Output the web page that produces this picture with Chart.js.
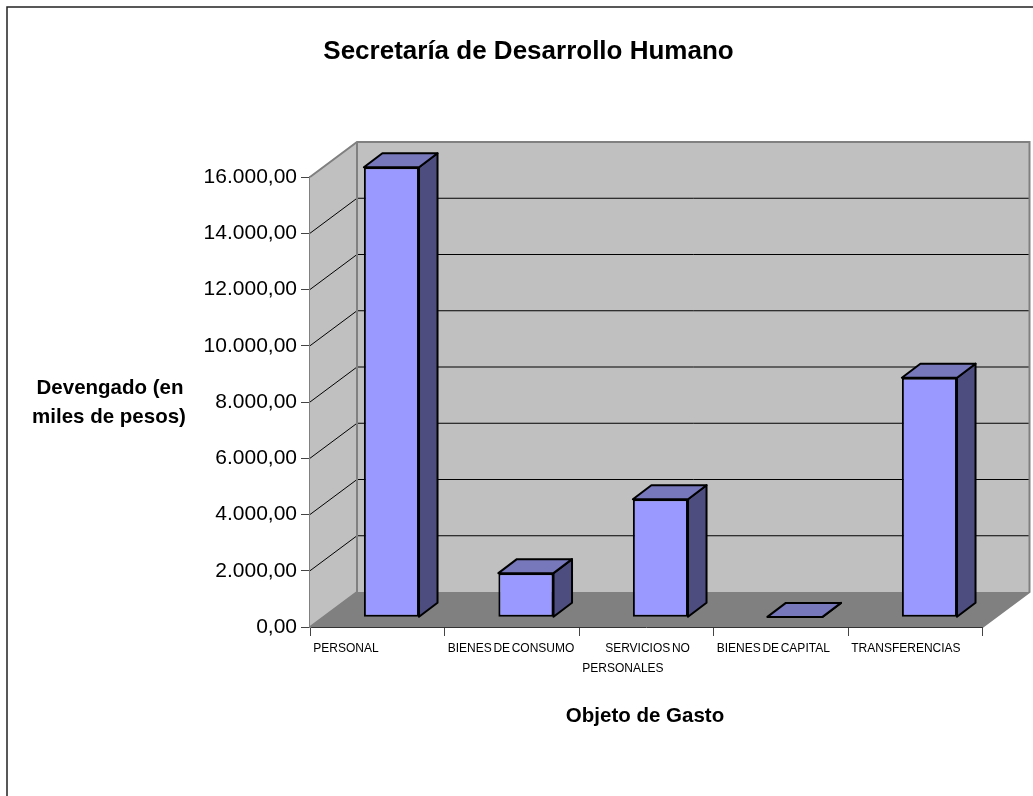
<!DOCTYPE html>
<html>
<head>
<meta charset="utf-8">
<title>Secretaría de Desarrollo Humano</title>
<script src="https://cdn.jsdelivr.net/npm/chart.js@4"></script>
<style>
    body { margin: 0; background: #fff; }
    canvas { display: block; }
</style>
</head>
<body>
<canvas id="gastoChart" width="1033" height="796"></canvas>
<script>
// Datos
const categories = ['PERSONAL', 'BIENES DE CONSUMO', ['SERVICIOS NO', 'PERSONALES'], 'BIENES DE CAPITAL', 'TRANSFERENCIAS'];
const devengado = [16000, 1570, 4200, 15, 8520];
const chartTitle = 'Secretaría de Desarrollo Humano';
const yTitle = ['Devengado (en', 'miles de pesos)'];
const xTitle = 'Objeto de Gasto';

const FONT = '"Liberation Sans", Arial, sans-serif';
const WALL = '#c0c0c0';
const FLOOR = '#808080';
const depthX = 47, depthY = 35;       // profundidad de la caja
const barShiftX = 14.2, barShiftY = 9.7; // barras en el medio de la caja
const barDepthX = 18.5, barDepthY = 14;

function poly(ctx, pts, fill, stroke, lw) {
    ctx.beginPath();
    pts.forEach((p, i) => i ? ctx.lineTo(p[0], p[1]) : ctx.moveTo(p[0], p[1]));
    ctx.closePath();
    if (fill) { ctx.fillStyle = fill; ctx.fill(); }
    if (stroke) { ctx.strokeStyle = stroke; ctx.lineWidth = lw; ctx.stroke(); }
}

// Paredes y piso
const box3d = {
    id: 'box3d',
    beforeDraw(chart) {
        // las etiquetas del eje x tienen los espacios apretados
        chart.ctx.wordSpacing = '-1.7px';
    },
    beforeDatasetsDraw(chart) {
        const { ctx, chartArea: a, scales: { y } } = chart;
        const dx = depthX, dy = depthY;
        ctx.save();
        poly(ctx, [[a.left + dx, a.top - dy], [a.right + dx, a.top - dy], [a.right + dx, a.bottom - dy], [a.left + dx, a.bottom - dy]], WALL);
        poly(ctx, [[a.left, a.top], [a.left + dx, a.top - dy], [a.left + dx, a.bottom - dy], [a.left, a.bottom]], WALL);
        poly(ctx, [[a.left, a.bottom], [a.left + dx, a.bottom - dy], [a.right + dx, a.bottom - dy], [a.right, a.bottom]], FLOOR);

        ctx.strokeStyle = '#000';
        ctx.lineWidth = 1;
        y.ticks.forEach((t, i) => {
            if (i === 0 || t.value === y.max) return;
            const py = y.getPixelForValue(t.value);
            ctx.beginPath();
            ctx.moveTo(a.left, py);
            ctx.lineTo(a.left + dx, py - dy);
            ctx.lineTo(a.right + dx, py - dy);
            ctx.stroke();
        });

        ctx.strokeStyle = FLOOR;
        ctx.lineWidth = 2;
        ctx.beginPath();
        ctx.moveTo(a.left, a.top);
        ctx.lineTo(a.left + dx, a.top - dy);
        ctx.lineTo(a.right + dx, a.top - dy);
        ctx.lineTo(a.right + dx, a.bottom - dy);
        ctx.lineTo(a.right, a.bottom);
        ctx.moveTo(a.left + dx, a.top - dy);
        ctx.lineTo(a.left + dx, a.bottom - dy);
        ctx.lineTo(a.left, a.bottom);
        ctx.stroke();
        ctx.restore();

        // las barras se dibujan corridas hacia el fondo
        ctx.save();
        ctx.translate(barShiftX, -barShiftY);
    },
    afterDatasetsDraw(chart) {
        const { ctx } = chart;
        chart.getDatasetMeta(0).data.forEach(bar => {
            const { x, y, base, width } = bar.getProps(['x', 'y', 'base', 'width'], true);
            const l = x - width / 2, r = x + width / 2;
            const bx = barDepthX, by = barDepthY;
            ctx.lineJoin = 'round';
            poly(ctx, [[r, y], [r + bx, y - by], [r + bx, base - by], [r, base]], '#4d4d80', '#000', 2);
            poly(ctx, [[l, y], [l + bx, y - by], [r + bx, y - by], [r, y]], '#7777bb', '#000', 2);
        });
        ctx.restore();
    },
    afterDraw(chart) {
        const { ctx } = chart;
        ctx.save();
        ctx.wordSpacing = '0px';
        ctx.fillStyle = '#000';
        ctx.textAlign = 'center';
        ctx.textBaseline = 'middle';
        ctx.font = 'bold 26px ' + FONT;
        ctx.fillText(chartTitle, 528.5, 52);
        ctx.font = 'bold 20.5px ' + FONT;
        ctx.fillText(yTitle[0], 110, 388);
        ctx.fillText(yTitle[1], 109, 417);
        ctx.fillText(xTitle, 645, 716);
        // marco exterior
        ctx.strokeStyle = '#222';
        ctx.lineWidth = 1.5;
        ctx.strokeRect(7, 7, 1040, 800);
        ctx.restore();
    }
};

new Chart(document.getElementById('gastoChart').getContext('2d'), {
    type: 'bar',
    plugins: [box3d],
    data: {
        labels: categories,
        datasets: [{
            data: devengado,
            backgroundColor: '#9999ff',
            borderColor: '#000',
            borderWidth: 2,
            borderSkipped: false,
            barPercentage: 0.41,
            categoryPercentage: 1,
            clip: false
        }]
    },
    options: {
        responsive: false,
        animation: false,
        layout: { padding: { top: 177, right: 50.5 } },
        plugins: { legend: { display: false }, tooltip: { enabled: false } },
        scales: {
            x: {
                afterFit(scale) { scale.height = 169; },
                border: { color: '#333', width: 1 },
                grid: { offset: true, drawOnChartArea: false, color: '#444', tickLength: 9 },
                ticks: {
                    autoSkip: false,
                    maxRotation: 0,
                    align: 'start',
                    labelOffset: -64,
                    padding: 3,
                    color: '#000',
                    font: { family: FONT, size: 12, lineHeight: 1.67 },
                    callback(value) {
                        const label = this.getLabelForValue(value);
                        // la primera linea de SERVICIOS NO queda corrida a la derecha
                        return Array.isArray(label) ? [' '.repeat(14) + label[0], label[1]] : label;
                    }
                }
            },
            y: {
                min: 0,
                max: 16000,
                afterFit(scale) { scale.width = 310; },
                border: { color: FLOOR, width: 2 },
                grid: { drawOnChartArea: false, color: '#444', tickLength: 9 },
                ticks: {
                    stepSize: 2000,
                    padding: 4,
                    color: '#000',
                    font: { family: FONT, size: 21 },
                    callback: v => v.toLocaleString('es-AR', { minimumFractionDigits: 2, maximumFractionDigits: 2 })
                }
            }
        }
    }
});
</script>
</body>
</html>
